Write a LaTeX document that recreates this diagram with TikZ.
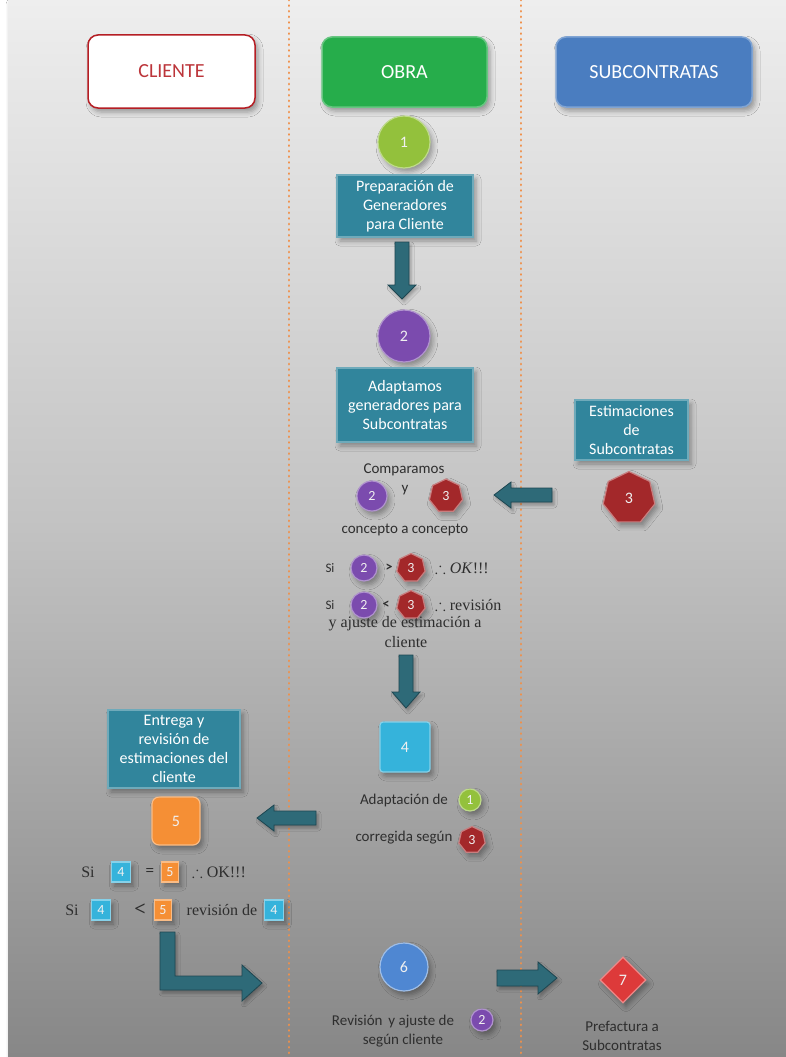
\documentclass[tikz,border=0pt]{standalone}
\usepackage{amssymb}
\usepackage{fontspec}
\setmainfont{Carlito}
\newfontfamily\cambria{Liberation Serif}
\usetikzlibrary{shapes.geometric,shadows.blur}

\definecolor{bgtop}{HTML}{EEEEEE}
\definecolor{bgmid}{HTML}{C2C2C2}
\definecolor{bgbot}{HTML}{878787}
\definecolor{lanedot}{HTML}{F0904A}
\definecolor{clired}{HTML}{B51E24}
\definecolor{obragreen}{HTML}{26AD4B}
\definecolor{subblue}{HTML}{4A7DC0}
\definecolor{tealbox}{HTML}{31859C}
\definecolor{arrowteal}{HTML}{2E6A78}
\definecolor{arrowedge}{HTML}{1D4651}
\definecolor{limegreen}{HTML}{93C13C}
\definecolor{violet}{HTML}{7B4BAE}
\definecolor{wine}{HTML}{A3282A}
\definecolor{cyanbox}{HTML}{35B3DB}
\definecolor{orangebox}{HTML}{F58F35}
\definecolor{bluecirc}{HTML}{4F87D2}
\definecolor{redgem}{HTML}{DD3A3A}
\definecolor{bodytext}{HTML}{2E2E2E}

\tikzset{
  shade/.style={blur shadow={shadow xshift=3pt, shadow yshift=-4pt,
      shadow blur radius=5pt, shadow opacity=35}},
  lanehead/.style={shade, rounded corners=10pt, font=\fontsize{20}{24}\selectfont,
      line width=1.5pt},
  tealstep/.style={shade, fill=tealbox, draw=tealbox!70!white, line width=1.5pt,
      text=white, align=center, font=\fontsize{16}{19}\selectfont,
      inner sep=3pt},
  badge/.style={shade, text=white!94!black, font=\fontsize{16}{18}\selectfont,
      inner sep=0pt, line width=1.2pt},
  smallbadge/.style={font=\fontsize{14}{16}\selectfont},
  ball/.style={badge, circle},
  hepta/.style={badge, regular polygon, regular polygon sides=7},
  body/.style={text=bodytext, font=\fontsize{15}{18}\selectfont, inner sep=1pt},
  serifbody/.style={text=bodytext, font=\cambria\fontsize{16}{18}\selectfont, inner sep=1pt},
  barrow/.style={fill=arrowteal, draw=arrowedge, line width=0.8pt, line join=miter,
      blur shadow={shadow xshift=2pt, shadow yshift=-3pt, shadow blur radius=3pt,
      shadow opacity=30}},
  lanesep/.style={lanedot, line width=2.8pt, line cap=round,
      dash pattern=on 0.1pt off 5.5pt},
}

\begin{document}
\begin{tikzpicture}[x=1pt,y=-1pt]
\useasboundingbox (0,0) rectangle (786,1057);

% backdrop
\fill[white] (0,0) rectangle (786,1057);
\shade[top color=bgtop, bottom color=bgbot, middle color=bgmid] (8,0) rectangle (786,1057);

% swimlane separators
\draw[lanesep] (289,0) -- (289,1057);
\draw[lanesep] (521,0) -- (521,1057);

% lane headings
\node[lanehead, fill=white, draw=clired, text=clired!90!white,
      minimum width=167pt, minimum height=73pt] (cliente) at (171.5,71.5) {CLIENTE};
\node[lanehead, fill=obragreen, draw=obragreen!70!white, text=white,
      minimum width=165pt, minimum height=70pt] (obra) at (404.5,72) {OBRA};
\node[lanehead, fill=subblue, draw=subblue!70!white, text=white,
      minimum width=196pt, minimum height=70pt] (subcon) at (654,72) {SUBCONTRATAS};

% step 1
\node[ball, fill=limegreen, draw=limegreen!60!white, minimum size=52pt] (s1) at (404,142) {1};
\node[tealstep, minimum width=136pt, minimum height=62pt] (prep) at (405,206)
  {Preparación de\\Generadores\\para Cliente};
\draw[barrow] (395,242) -- (409,242) -- (409,285) -- (416,285) -- (402,299)
  -- (388,285) -- (395,285) -- cycle;

% step 2
\node[ball, fill=violet, draw=violet!60!white, minimum size=52pt] (s2) at (404,336) {2};
\node[tealstep, minimum width=136pt, minimum height=74pt] (adapt) at (405,405)
  {Adaptamos\\generadores para\\Subcontratas};

% step 3 (subcontractor estimates)
\node[tealstep, minimum width=113pt, minimum height=60pt] (estim) at (631.5,430)
  {Estimaciones\\de\\Subcontratas};
\node[hepta, fill=wine, draw=wine!60!white, minimum size=53pt] (s3) at (629,498) {3};
\draw[barrow] (552,488) -- (511,488) -- (511,482) -- (494,495) -- (511,508)
  -- (511,502) -- (552,502) -- cycle;

% comparison
\node[body] (comp) at (404,470) {Comparamos};
\node[ball, smallbadge, fill=violet, draw=violet!60!white, minimum size=30pt] (cmpa) at (372,496) {2};
\node[body] (cmpy) at (405,490) {y};
\node[hepta, smallbadge, fill=wine, draw=wine!60!white, minimum size=34pt] (cmpb) at (446,496) {3};
\node[body] (cmpc) at (405,530) {concepto a concepto};

\node[body, font=\fontsize{13}{16}\selectfont] (ra0) at (330,568) {Si};
\node[ball, smallbadge, fill=violet, draw=violet!60!white, minimum size=26pt] (ra1) at (364,568) {2};
\node[body, font=\bfseries\fontsize{14}{16}\selectfont] (ra2) at (389,568) {>};
\node[hepta, smallbadge, fill=wine, draw=wine!60!white, minimum size=29pt] (ra3) at (411,568) {3};
\node[serifbody, anchor=west] (ra4) at (434,568) {$\therefore$ \textit{OK}!!!};

\node[body, font=\fontsize{13}{16}\selectfont] (rb0) at (330,605) {Si};
\node[ball, smallbadge, fill=violet, draw=violet!60!white, minimum size=26pt] (rb1) at (364,605) {2};
\node[body, font=\bfseries\fontsize{14}{16}\selectfont] (rb2) at (386,605) {<};
\node[hepta, smallbadge, fill=wine, draw=wine!60!white, minimum size=29pt] (rb3) at (411,605) {3};
\node[serifbody, anchor=west] (rb4) at (434,605) {$\therefore$ revisión};
\node[serifbody] (rb5) at (405,624) {y ajuste de estimación a};
\node[serifbody] (rb6) at (406,642) {cliente};

\draw[barrow] (399,655) -- (413,655) -- (413,692) -- (420,692) -- (406,708)
  -- (392,692) -- (399,692) -- cycle;

% step 4
\node[badge, fill=cyanbox, draw=cyanbox!60!white, rounded corners=3pt,
      minimum width=50pt, minimum height=50pt] (s4) at (405,747) {4};
\node[body] (adx) at (404,800) {Adaptación de};
\node[ball, smallbadge, fill=limegreen, draw=limegreen!60!white, minimum size=22pt] (adx1) at (470,800) {1};
\node[body] (cor) at (404,838) {corregida según};
\node[hepta, smallbadge, fill=wine, draw=wine!60!white, minimum size=27pt] (cor3) at (472,840) {3};

\draw[barrow] (316,811) -- (274,811) -- (274,805) -- (257,818) -- (274,831)
  -- (274,825) -- (316,825) -- cycle;

% step 5 (client)
\node[tealstep, minimum width=132pt, minimum height=78pt] (entrega) at (174,749)
  {Entrega y\\revisión de\\estimaciones del\\cliente};
\node[badge, fill=orangebox, draw=orangebox!60!white, rounded corners=7pt,
      minimum width=48pt, minimum height=48pt] (s5) at (176,821) {5};

\node[serifbody] (ca0) at (88,872) {Si};
\node[badge, smallbadge, fill=cyanbox, draw=cyanbox!60!white, minimum width=19pt,
      minimum height=20pt] (ca1) at (121,872) {4};
\node[serifbody, font=\cambria\bfseries\fontsize{15}{18}\selectfont] (ca2) at (150,872) {=};
\node[badge, smallbadge, fill=orangebox, draw=orangebox!60!white, minimum width=17pt,
      minimum height=20pt] (ca3) at (170,872) {5};
\node[serifbody] (ca4) at (219,872) {$\therefore$ OK!!!};

\node[serifbody] (cb0) at (72,910) {Si};
\node[badge, smallbadge, fill=cyanbox, draw=cyanbox!60!white, minimum width=19pt,
      minimum height=20pt] (cb1) at (101,910) {4};
\node[serifbody, font=\cambria\bfseries\fontsize{20}{22}\selectfont] (cb2) at (140,910) {<};
\node[badge, smallbadge, fill=orangebox, draw=orangebox!60!white, minimum width=17pt,
      minimum height=20pt] (cb3) at (163,910) {5};
\node[serifbody] (cb4) at (222,910) {revisión de};
\node[badge, smallbadge, fill=cyanbox, draw=cyanbox!60!white, minimum width=19pt,
      minimum height=20pt] (cb5) at (274,910) {4};

% return to the work site
\draw[barrow] (160,932) -- (175,932) -- (175,976) -- (242,976) -- (242,965)
  -- (262,983) -- (242,1001) -- (242,990) -- (160,990) -- cycle;

% step 6
\node[ball, fill=bluecirc, draw=bluecirc!55!white, minimum size=48pt] (s6) at (404,967) {6};
\node[body] (rev) at (393,1022) {Revisión\, y ajuste de};
\node[ball, smallbadge, fill=violet, draw=violet!60!white, minimum size=22pt] (rev2) at (482,1020) {2};
\node[body] (rev3) at (403,1041) {según cliente};

\draw[barrow] (497,970) -- (538,970) -- (538,962) -- (557,978) -- (538,994)
  -- (538,986) -- (497,986) -- cycle;

% step 7
\node[badge, diamond, fill=redgem, draw=redgem!60!white, minimum size=46pt] (s7) at (623,980) {7};
\node[body] (pre) at (622,1026) {Prefactura a};
\node[body] (pre2) at (622,1045) {Subcontratas};

\end{tikzpicture}
\end{document}
